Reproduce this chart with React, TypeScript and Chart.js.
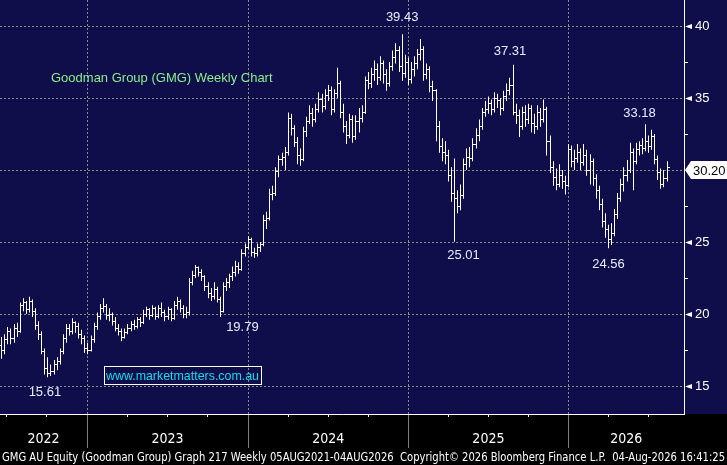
import React, { useEffect, useRef } from 'react';
import { Chart, registerables } from 'chart.js';

Chart.register(...registerables);

// ---------------- data (weekly OHLC, week index 0 = first visible bar) ----------------
const OPENS = [
  17.8, 17.5, 18.2, 18.8, 18.3, 19.0, 18.8, 20.6, 20.8, 20.3,
  20.9, 20.2, 19.2, 18.6, 17.4, 16.2, 15.9, 16.0, 16.5, 16.7,
  17.4, 18.3, 19.0, 18.8, 19.4, 19.1, 18.6, 18.3, 17.6, 17.5,
  18.2, 19.1, 19.8, 20.4, 20.5, 19.9, 20.0, 19.5, 19.0, 18.8,
  18.4, 18.7, 19.0, 19.3, 19.1, 19.6, 19.4, 20.0, 20.3, 19.9,
  20.4, 19.8, 20.4, 20.1, 19.8, 20.3, 19.7, 20.6, 20.9, 20.4,
  20.0, 20.1, 22.2, 22.7, 23.2, 22.9, 22.6, 21.9, 21.4, 21.2,
  21.7, 21.0, 20.2, 21.9, 22.2, 22.6, 22.9, 23.3, 23.1, 24.2,
  24.6, 25.2, 24.3, 24.2, 24.6, 24.8, 26.5, 26.6, 28.3, 28.4,
  29.9, 30.7, 30.9, 31.2, 33.6, 32.9, 31.9, 31.0, 30.7, 32.7,
  33.4, 33.9, 33.5, 34.2, 34.9, 34.4, 35.2, 35.5, 34.2, 35.3,
  36.0, 34.0, 33.0, 32.4, 33.5, 32.3, 33.4, 33.6, 34.0, 36.2,
  36.0, 36.6, 37.0, 36.4, 37.4, 36.6, 36.0, 37.2, 37.8, 38.3,
  37.2, 36.7, 37.5, 36.3, 37.0, 37.4, 38.0, 38.4, 36.6, 37.0,
  35.8, 35.5, 33.0, 31.6, 31.2, 31.0, 29.6, 28.4, 28.0, 27.5,
  28.2, 30.4, 30.9, 30.8, 31.8, 32.4, 33.0, 34.0, 34.2, 34.6,
  34.2, 35.0, 34.8, 34.3, 35.1, 35.5, 35.9, 34.0, 33.8, 33.0,
  34.0, 33.5, 34.3, 33.2, 33.0, 34.0, 33.5, 34.2, 32.0, 30.2,
  29.5, 29.0, 29.6, 29.2, 28.9, 31.4, 30.6, 30.8, 31.2, 30.5,
  31.0, 30.0, 30.6, 29.4, 28.6, 27.6, 26.4, 25.9, 25.2, 25.6,
  26.9, 28.0, 29.0, 29.6, 30.0, 31.2, 30.6, 31.4, 31.7, 31.5,
  32.0, 31.6, 32.3, 30.7, 29.8, 29.0, 29.4,
];
const HIGHS = [
  18.4, 18.6, 19.1, 19.0, 19.3, 19.4, 20.8, 21.1, 20.9, 21.2,
  21.0, 20.4, 19.5, 18.8, 17.6, 17.0, 16.5, 16.8, 17.0, 17.6,
  18.6, 19.3, 19.3, 19.7, 19.5, 19.4, 18.9, 18.5, 18.0, 18.5,
  19.4, 20.1, 20.7, 21.1, 20.7, 20.4, 20.1, 19.8, 19.3, 19.0,
  19.0, 19.3, 19.5, 19.6, 19.8, 19.8, 20.3, 20.5, 20.4, 20.6,
  20.5, 20.6, 20.8, 20.3, 20.5, 20.4, 20.9, 21.2, 21.0, 20.6,
  20.5, 22.5, 23.0, 23.4, 23.3, 23.1, 22.7, 22.2, 21.8, 22.2,
  21.9, 21.2, 22.2, 22.5, 22.8, 23.3, 23.7, 23.6, 24.5, 24.9,
  25.4, 25.3, 24.6, 24.9, 25.0, 26.9, 27.1, 28.7, 28.9, 30.2,
  31.0, 31.2, 31.6, 34.0, 33.9, 33.1, 32.3, 31.5, 33.0, 33.7,
  34.5, 34.3, 34.6, 35.4, 35.3, 35.6, 35.9, 35.8, 35.6, 37.1,
  36.2, 34.6, 33.4, 33.9, 33.8, 33.8, 34.3, 34.5, 36.5, 36.8,
  37.1, 37.6, 37.4, 37.9, 37.6, 37.0, 37.5, 38.3, 38.8, 38.6,
  39.43, 38.0, 37.8, 37.5, 37.9, 38.4, 39.1, 38.6, 37.4, 37.2,
  36.2, 35.6, 33.4, 32.2, 32.0, 31.4, 30.2, 30.8, 28.6, 29.0,
  30.8, 31.5, 31.6, 32.2, 32.9, 33.5, 34.3, 34.8, 35.1, 34.9,
  35.4, 35.3, 35.0, 35.5, 36.0, 36.4, 37.31, 34.6, 34.2, 34.4,
  34.5, 34.6, 34.5, 33.9, 34.5, 34.3, 34.9, 34.4, 32.4, 30.6,
  30.1, 30.4, 30.0, 29.6, 31.8, 31.7, 31.4, 31.8, 31.5, 31.8,
  31.4, 31.1, 30.8, 29.7, 28.9, 28.0, 27.0, 26.2, 26.3, 27.3,
  28.4, 29.4, 30.2, 30.7, 31.9, 31.5, 31.9, 32.0, 32.2, 33.18,
  32.4, 32.8, 32.5, 31.0, 30.1, 30.0, 30.6,
];
const LOWS = [
  16.9, 17.2, 17.9, 17.9, 18.0, 18.4, 18.7, 20.2, 20.0, 20.1,
  19.8, 18.9, 18.2, 17.2, 15.8, 15.61, 15.7, 15.8, 16.1, 16.5,
  17.2, 18.0, 18.5, 18.6, 18.7, 18.3, 17.9, 17.3, 17.2, 17.4,
  18.0, 18.9, 19.6, 20.1, 19.6, 19.5, 19.2, 18.8, 18.5, 18.1,
  18.3, 18.6, 18.8, 18.9, 19.0, 19.1, 19.3, 19.8, 19.6, 19.8,
  19.6, 19.7, 19.8, 19.5, 19.6, 19.5, 19.6, 20.3, 20.1, 19.7,
  19.7, 19.9, 22.0, 22.5, 22.6, 22.3, 21.6, 21.1, 20.9, 21.0,
  20.8, 19.79, 20.1, 21.6, 21.8, 22.3, 22.6, 22.8, 23.0, 24.0,
  24.5, 24.0, 23.9, 24.0, 24.3, 24.7, 25.9, 26.5, 27.9, 28.2,
  29.5, 30.3, 30.0, 31.0, 32.4, 31.6, 30.4, 30.3, 30.6, 32.3,
  33.2, 33.0, 33.3, 34.0, 34.0, 34.2, 34.8, 33.8, 34.0, 35.0,
  33.6, 32.6, 31.8, 32.2, 31.9, 32.1, 32.6, 33.3, 33.9, 35.6,
  35.7, 36.2, 35.9, 36.2, 36.0, 35.5, 35.8, 36.9, 37.4, 36.8,
  36.2, 36.4, 35.9, 36.0, 36.5, 37.0, 37.6, 36.2, 36.3, 35.4,
  34.8, 32.0, 31.2, 30.6, 30.4, 29.2, 27.8, 25.01, 27.0, 27.2,
  28.0, 30.0, 30.2, 30.6, 31.5, 32.0, 32.8, 33.7, 33.9, 33.8,
  34.0, 34.3, 33.8, 34.1, 34.8, 35.2, 33.8, 33.2, 32.3, 32.8,
  33.0, 33.2, 32.6, 32.5, 32.8, 33.0, 33.3, 31.0, 29.8, 28.9,
  28.6, 28.8, 28.7, 28.3, 28.8, 30.2, 30.0, 30.5, 30.0, 30.3,
  29.6, 29.0, 28.9, 28.0, 27.2, 26.0, 25.3, 24.56, 24.8, 25.4,
  26.6, 27.8, 28.5, 29.2, 29.8, 28.6, 30.4, 31.0, 31.1, 31.3,
  31.2, 31.4, 30.4, 29.3, 28.7, 28.8, 29.2,
];
const CLOSES = [
  17.5, 18.2, 18.8, 18.3, 19.0, 18.8, 20.6, 20.8, 20.3, 20.9,
  20.2, 19.2, 18.6, 17.4, 16.2, 15.9, 16.0, 16.5, 16.7, 17.4,
  18.3, 19.0, 18.8, 19.4, 19.1, 18.6, 18.3, 17.6, 17.5, 18.2,
  19.1, 19.8, 20.4, 20.5, 19.9, 20.0, 19.5, 19.0, 18.8, 18.4,
  18.7, 19.0, 19.3, 19.1, 19.6, 19.4, 20.0, 20.3, 19.9, 20.4,
  19.8, 20.4, 20.1, 19.8, 20.3, 19.7, 20.6, 20.9, 20.4, 20.0,
  20.1, 22.2, 22.7, 23.2, 22.9, 22.6, 21.9, 21.4, 21.2, 21.7,
  21.0, 20.2, 21.9, 22.2, 22.6, 22.9, 23.3, 23.1, 24.2, 24.6,
  25.2, 24.3, 24.2, 24.6, 24.8, 26.5, 26.6, 28.3, 28.4, 29.9,
  30.7, 30.9, 31.2, 33.6, 32.9, 31.9, 31.0, 30.7, 32.7, 33.4,
  33.9, 33.5, 34.2, 34.9, 34.4, 35.2, 35.5, 34.2, 35.3, 36.0,
  34.0, 33.0, 32.4, 33.5, 32.3, 33.4, 33.6, 34.0, 36.2, 36.0,
  36.6, 37.0, 36.4, 37.4, 36.6, 36.0, 37.2, 37.8, 38.3, 37.2,
  36.7, 37.5, 36.3, 37.0, 37.4, 38.0, 38.4, 36.6, 37.0, 35.8,
  35.5, 33.0, 31.6, 31.2, 31.0, 29.6, 28.4, 28.0, 27.5, 28.2,
  30.4, 30.9, 30.8, 31.8, 32.4, 33.0, 34.0, 34.2, 34.6, 34.2,
  35.0, 34.8, 34.3, 35.1, 35.5, 35.9, 34.0, 33.8, 33.0, 34.0,
  33.5, 34.3, 33.2, 33.0, 34.0, 33.5, 34.2, 32.0, 30.2, 29.5,
  29.0, 29.6, 29.2, 28.9, 31.4, 30.6, 30.8, 31.2, 30.5, 31.0,
  30.0, 30.6, 29.4, 28.6, 27.6, 26.4, 25.9, 25.2, 25.6, 26.9,
  28.0, 29.0, 29.6, 30.0, 31.2, 30.6, 31.4, 31.7, 31.5, 32.0,
  31.6, 32.3, 30.7, 29.8, 29.0, 29.4, 30.2,
];

// year boundaries (week index of 1 Jan 2023, 2024, 2025, 2026) and labels
const YEAR_STARTS = [27.7, 80.0, 132.0, 184.0];
const YEAR_LABELS = ['2022', '2023', '2024', '2025', '2026'];
const Y_TICKS = [15, 17.5, 20, 22.5, 25, 27.5, 30, 32.5, 35, 37.5, 40];

// marked highs / lows
const PEAK_WEEKS = [130, 166, 209, 147, 197, 71, 15];
const PEAK_SIDES = ['high', 'high', 'high', 'low', 'low', 'low', 'low'];

const TITLE = 'Goodman Group (GMG) Weekly Chart';
const WEBSITE = 'www.marketmatters.com.au';
const FOOTER =
  'GMG AU Equity (Goodman Group) Graph 217 Weekly 05AUG2021-04AUG2026  Copyright\u00A9 2026 Bloomberg Finance L.P.  04-Aug-2026 16:41:25';

// ---------------- presentation ----------------
const X_MIN = -0.55;
const X_MAX = 221.5;
const Y_MIN = 13.056;
const Y_MAX = 41.806;
const WEEKS_PER_QUARTER = 13.04;

const SANS = '"Liberation Sans", Arial, "DejaVu Sans", sans-serif';
const NARROW = '"Liberation Sans Narrow", "Arial Narrow", "DejaVu Sans Condensed", sans-serif';
const NAVY = '#0f0d4a';
const GRID = '#8c8c8c';
const PEAK_OFFSETS = [
  [0, -17], [-3, -13], [-6, -11], [9, 14], [0, 16], [22, 10], [-3, 15],
];

type XTick = { value: number; kind: 'year' | 'q' | 'label'; text?: string };

function buildXTicks(): XTick[] {
  const out: XTick[] = [];
  YEAR_STARTS.forEach((b) => out.push({ value: b, kind: 'year' }));
  const starts = [YEAR_STARTS[0] - 4 * WEEKS_PER_QUARTER, ...YEAR_STARTS];
  starts.forEach((s) => {
    for (let k = 1; k <= 3; k++) {
      const v = s + k * WEEKS_PER_QUARTER;
      if (v > X_MIN && v < X_MAX) out.push({ value: v, kind: 'q' });
    }
  });
  const bounds = [X_MIN, ...YEAR_STARTS, X_MAX];
  YEAR_LABELS.forEach((t, j) => {
    out.push({ value: (bounds[j] + bounds[j + 1]) / 2, kind: 'label', text: t });
  });
  out.sort((a, b) => a.value - b.value);
  return out;
}
const X_TICKS = buildXTicks();

const bgPlugin = {
  id: 'bgPlugin',
  beforeDraw(chart: any) {
    const { ctx, width, height, chartArea } = chart;
    ctx.save();
    ctx.fillStyle = '#000';
    ctx.fillRect(0, 0, width, height);
    ctx.fillStyle = NAVY;
    ctx.fillRect(0, 0, width, chartArea.bottom);
    ctx.restore();
  },
};

const crispPlugin = {
  id: 'crispPlugin',
  beforeDatasetsDraw(chart: any) {
    chart.getDatasetMeta(0).data.forEach((el: any) => {
      el.x = Math.floor(el.x) + 0.5;
    });
  },
};

const ohlcTicksPlugin = {
  id: 'ohlcTicksPlugin',
  afterDatasetsDraw(chart: any) {
    const { ctx, chartArea } = chart;
    const ys = chart.scales.y;
    const meta = chart.getDatasetMeta(0);
    ctx.save();
    ctx.beginPath();
    ctx.rect(chartArea.left, chartArea.top, chartArea.right - chartArea.left, chartArea.bottom - chartArea.top);
    ctx.clip();
    ctx.fillStyle = '#ffffff';
    meta.data.forEach((el: any, i: number) => {
      const c = Math.floor(el.x);
      ctx.fillRect(c - 2, Math.floor(ys.getPixelForValue(OPENS[i])), 2, 1);
      ctx.fillRect(c + 1, Math.floor(ys.getPixelForValue(CLOSES[i])), 2, 1);
    });
    ctx.restore();
  },
};

const overlayPlugin = {
  id: 'overlayPlugin',
  afterDraw(chart: any) {
    const { ctx, chartArea, width, height } = chart;
    const xs = chart.scales.x;
    const ys = chart.scales.y;
    ctx.save();

    // solid year separators below the plot
    ctx.strokeStyle = '#7d7d7d';
    ctx.lineWidth = 1;
    YEAR_STARTS.forEach((b) => {
      const px = Math.round(xs.getPixelForValue(b) - 0.5) + 0.5;
      ctx.beginPath();
      ctx.moveTo(px, chartArea.bottom + 1);
      ctx.lineTo(px, chartArea.bottom + 34);
      ctx.stroke();
    });

    // title
    ctx.font = `13px ${SANS}`;
    ctx.textBaseline = 'middle';
    ctx.textAlign = 'left';
    ctx.fillStyle = '#8af08a';
    ctx.fillText(TITLE, 51, 78);

    // website box
    ctx.strokeStyle = '#ffffff';
    ctx.strokeRect(104.5, 366.5, 157, 18);
    ctx.fillStyle = '#14dcf0';
    ctx.fillText(WEBSITE, 106, 376, 153);

    // high / low labels
    ctx.textAlign = 'center';
    ctx.fillStyle = '#e8eeff';
    PEAK_WEEKS.forEach((w, k) => {
      const v = PEAK_SIDES[k] === 'high' ? HIGHS[w] : LOWS[w];
      const px = xs.getPixelForValue(w) + PEAK_OFFSETS[k][0];
      const py = ys.getPixelForValue(v) + PEAK_OFFSETS[k][1];
      ctx.fillText(v.toFixed(2), px, py);
    });

    // axis triangles at major ticks
    ctx.fillStyle = '#ffffff';
    Y_TICKS.filter((v) => v % 5 === 0).forEach((v) => {
      const py = Math.round(ys.getPixelForValue(v) - 0.5) + 0.5;
      ctx.beginPath();
      ctx.moveTo(chartArea.right + 1, py);
      ctx.lineTo(chartArea.right + 8, py - 2.5);
      ctx.lineTo(chartArea.right + 8, py + 2.5);
      ctx.closePath();
      ctx.fill();
    });

    // last price tag
    const lp = CLOSES[CLOSES.length - 1];
    const ly = Math.round(ys.getPixelForValue(lp)) + 3;
    const r = chartArea.right;
    ctx.beginPath();
    ctx.moveTo(r + 1, ly);
    ctx.lineTo(r + 7, ly - 9);
    ctx.lineTo(width, ly - 9);
    ctx.lineTo(width, ly + 9);
    ctx.lineTo(r + 7, ly + 9);
    ctx.closePath();
    ctx.fillStyle = '#ffffff';
    ctx.fill();
    ctx.fillStyle = '#000000';
    ctx.textAlign = 'left';
    ctx.font = `13px ${SANS}`;
    ctx.fillText(lp.toFixed(2), r + 9, ly + 1);

    // footer
    ctx.font = `12px ${NARROW}`;
    ctx.textBaseline = 'alphabetic';
    ctx.fillStyle = '#ffffff';
    const tw = ctx.measureText(FOOTER).width;
    ctx.translate(2, height - 4);
    ctx.scale(723 / tw, 1);
    ctx.fillText(FOOTER, 0, 0);

    ctx.restore();
  },
};

export default function App() {
  const ref = useRef<HTMLCanvasElement | null>(null);

  useEffect(() => {
    if (!ref.current) return;
    const chart = new Chart(ref.current, {
      type: 'bar',
      data: {
        datasets: [
          {
            label: 'GMG',
            data: HIGHS.map((h, i) => ({ x: i, y: [LOWS[i], h] })),
            backgroundColor: '#ffffff',
            borderWidth: 0,
            barThickness: 1,
            inflateAmount: 0,
            grouped: false,
          } as any,
        ],
      },
      options: {
        responsive: true,
        maintainAspectRatio: false,
        animation: false,
        devicePixelRatio: 1,
        layout: { padding: 0 },
        plugins: {
          legend: { display: false },
          tooltip: { enabled: false },
          title: { display: false },
        },
        scales: {
          x: {
            type: 'linear',
            min: X_MIN,
            max: X_MAX,
            offset: false,
            afterBuildTicks: (scale: any) => {
              scale.ticks = X_TICKS.map((t) => ({ value: t.value }));
            },
            afterFit: (scale: any) => {
              scale.height = 51;
              scale.paddingLeft = 0;
              scale.paddingRight = 0;
              scale.paddingTop = 0;
              scale.paddingBottom = 0;
            },
            grid: {
              offset: false,
              drawOnChartArea: true,
              drawTicks: true,
              tickLength: 3,
              lineWidth: 1,
              color: (c: any) => (X_TICKS[c.index] && X_TICKS[c.index].kind === 'year' ? GRID : 'transparent'),
              tickColor: (c: any) => {
                const k = X_TICKS[c.index] ? X_TICKS[c.index].kind : 'label';
                return k === 'q' ? '#ffffff' : k === 'year' ? '#7d7d7d' : 'transparent';
              },
            },
            border: { display: true, color: '#ffffff', width: 1, dash: [2, 2] },
            ticks: {
              autoSkip: false,
              maxRotation: 0,
              minRotation: 0,
              padding: 14,
              color: '#ffffff',
              font: { family: NARROW, size: 14 },
              callback: (_v: any, idx: number) =>
                X_TICKS[idx] && X_TICKS[idx].kind === 'label' ? X_TICKS[idx].text : '',
            },
          },
          y: {
            type: 'linear',
            position: 'right',
            min: Y_MIN,
            max: Y_MAX,
            afterBuildTicks: (scale: any) => {
              scale.ticks = Y_TICKS.map((v) => ({ value: v }));
            },
            afterFit: (scale: any) => {
              scale.width = 43;
              scale.paddingTop = 0;
              scale.paddingBottom = 0;
              scale.paddingLeft = 0;
              scale.paddingRight = 0;
            },
            grid: {
              drawOnChartArea: true,
              drawTicks: true,
              tickLength: 4,
              lineWidth: 1,
              color: (c: any) => (c.tick && c.tick.value % 5 === 0 ? GRID : 'transparent'),
              tickColor: (c: any) => (c.tick && c.tick.value % 5 === 0 ? 'transparent' : '#ffffff'),
            },
            border: { display: true, color: '#ffffff', width: 1, dash: [2, 2] },
            ticks: {
              padding: 7,
              color: '#ffffff',
              font: { family: SANS, size: 13 },
              callback: (v: any) => (Number(v) % 5 === 0 ? String(v) : ''),
            },
          },
        },
      } as any,
      plugins: [bgPlugin, crispPlugin, ohlcTicksPlugin, overlayPlugin],
    });
    return () => chart.destroy();
  }, []);

  return (
    <div style={{ position: 'fixed', left: 0, top: 0, width: 727, height: 465, background: '#000' }}>
      <canvas ref={ref} />
    </div>
  );
}
